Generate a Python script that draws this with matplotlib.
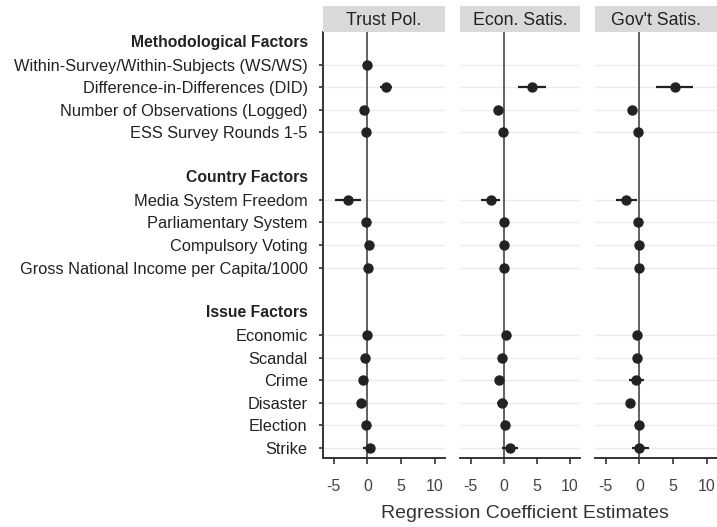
import numpy as np
import matplotlib.pyplot as plt

plt.rcParams['font.family'] = ['Liberation Sans', 'DejaVu Sans']

groups = ["Methodological Factors", "Country Factors", "Issue Factors"]
group_items = [
    ["Within-Survey/Within-Subjects (WS/WS)", "Difference-in-Differences (DID)",
     "Number of Observations (Logged)", "ESS Survey Rounds 1-5"],
    ["Media System Freedom", "Parliamentary System", "Compulsory Voting",
     "Gross National Income per Capita/1000"],
    ["Economic", "Scandal", "Crime", "Disaster", "Election", "Strike"],
]
panels = ["Trust Pol.", "Econ. Satis.", "Gov't Satis."]

# estimates and 95% interval bounds, one entry per item in the order above
trust_est = [0.0, 2.8, -0.45, -0.2, -2.9, -0.2, 0.2, 0.1, 0.0, -0.3, -0.65, -1.0, -0.15, 0.3]
trust_lo = [-0.3, 1.9, -0.8, -0.5, -4.8, -0.5, -0.2, -0.2, -0.3, -0.6, -1.0, -1.4, -0.5, -0.65]
trust_hi = [0.3, 3.6, -0.1, 0.1, -0.9, 0.1, 0.6, 0.4, 0.3, 0.0, -0.3, -0.6, 0.2, 1.05]

econ_est = [np.nan, 4.3, -0.8, -0.05, -1.9, 0.0, 0.05, 0.1, 0.35, -0.2, -0.7, -0.3, 0.25, 1.0]
econ_lo = [np.nan, 2.1, -1.2, -0.4, -3.4, -0.3, -0.3, -0.2, 0.0, -0.5, -1.0, -1.0, -0.1, -0.3]
econ_hi = [np.nan, 6.4, -0.4, 0.3, -0.5, 0.3, 0.4, 0.4, 0.7, 0.1, -0.4, 0.7, 0.6, 2.2]

gov_est = [np.nan, 5.2, -1.15, -0.2, -2.0, -0.15, -0.1, 0.0, -0.3, -0.4, -0.45, -1.45, -0.1, 0.0]
gov_lo = [np.nan, 2.5, -1.5, -0.5, -3.5, -0.5, -0.6, -0.3, -0.6, -0.7, -1.5, -2.0, -0.5, -1.15]
gov_hi = [np.nan, 8.0, -0.8, 0.1, -0.4, 0.2, 0.5, 0.3, 0.0, -0.1, 0.6, -0.9, 0.3, 1.35]

xticks = [-5, 0, 5, 10]

est = [trust_est, econ_est, gov_est]
lo = [trust_lo, econ_lo, gov_lo]
hi = [trust_hi, econ_hi, gov_hi]

# lay out rows: header, items, blank spacer between groups
header_pos = []
item_pos = []
labels = []
row = 0
for g, items in zip(groups, group_items):
    header_pos.append(row)
    row += 1
    for it in items:
        item_pos.append(row)
        labels.append(it)
        row += 1
    row += 1
item_pos = np.array(item_pos)

fig = plt.figure(figsize=(7.17, 5.27), dpi=100)
lefts = [323 / 717, 460 / 717, 595 / 717]
widths = [122 / 717, 120 / 717, 122 / 717]
bottom, height = 69 / 527, 426 / 527
strip_h = 26 / 527

ylab_size = 11.8
head_size = 11.3
ytick_len, ytick_pad = 3, 8

for k in range(3):
    ax = fig.add_axes([lefts[k], bottom, widths[k], height])
    ax.set_xlim(-6.6, 11.5)
    ax.set_ylim(18.45, -0.45)
    for y in item_pos:
        ax.axhline(y, color='#ebebeb', lw=1.0, zorder=0)
    ax.axvline(0, color='#555555', lw=1.3, zorder=1)
    e = np.array(est[k], dtype=float)
    l = np.array(lo[k], dtype=float)
    h = np.array(hi[k], dtype=float)
    ok = ~np.isnan(e)
    ax.hlines(item_pos[ok], l[ok], h[ok], color='#222222', lw=1.6, zorder=2)
    ax.scatter(e[ok], item_pos[ok], s=42, color='#222222', zorder=3)

    ax.set_xticks(xticks)
    ax.set_xticklabels([str(t) for t in xticks])
    ax.tick_params(axis='x', length=4, width=1.2, color='#333333',
                   labelsize=11.5, labelcolor='#444444', pad=11)
    for s in ['top', 'right']:
        ax.spines[s].set_visible(False)
    ax.spines['bottom'].set_color('#333333')
    ax.spines['bottom'].set_linewidth(1.4)
    if k == 0:
        ax.spines['left'].set_color('#333333')
        ax.spines['left'].set_linewidth(1.4)
        ax.set_yticks(item_pos)
        ax.set_yticklabels(labels)
        ax.tick_params(axis='y', length=ytick_len, width=1.2, color='#333333',
                       labelsize=ylab_size, labelcolor='#222222', pad=ytick_pad)
        for g, y in zip(groups, header_pos):
            ax.annotate(g, xy=(0, y), xycoords=ax.get_yaxis_transform(),
                        xytext=(-(ytick_len + ytick_pad), 0), textcoords='offset points',
                        ha='right', va='center', fontsize=head_size,
                        fontweight='bold', color='#222222')
    else:
        ax.spines['left'].set_visible(False)
        ax.set_yticks([])

    # facet strip
    sax = fig.add_axes([lefts[k], bottom + height, widths[k], strip_h])
    sax.set_facecolor('#d9d9d9')
    sax.set_xticks([])
    sax.set_yticks([])
    for s in sax.spines.values():
        s.set_visible(False)
    sax.text(0.5, 0.45, panels[k], ha='center', va='center', fontsize=12.8,
             color='#222222', transform=sax.transAxes)

fig.text(525 / 717, 13 / 527, "Regression Coefficient Estimates", ha='center',
         va='center', fontsize=14, color='#333333')

fig.savefig("out.png", dpi=100)
